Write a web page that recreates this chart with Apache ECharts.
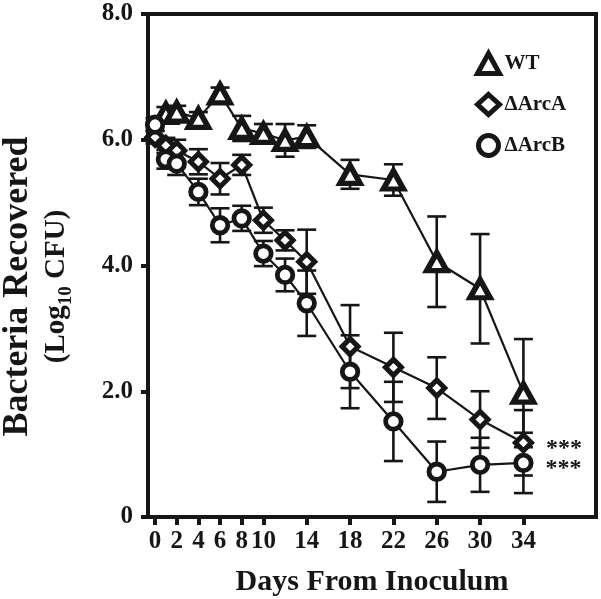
<!DOCTYPE html>
<html>
<head>
<meta charset="utf-8">
<script src="https://cdn.jsdelivr.net/npm/echarts@6/dist/echarts.min.js"></script>
<style>html,body{margin:0;padding:0;background:#fff;}#c{width:601px;height:599px;}</style>
</head>
<body>
<div id="c"></div>
<script>
// ---- data ----
var days   = [0, 1, 2, 4, 6, 8, 10, 12, 14, 18, 22, 26, 30, 34];
var wtDays = [1, 2, 4, 6, 8, 10, 12, 14, 18, 22, 26, 30, 34];
var tickDays = [0, 2, 4, 6, 8, 10, 14, 18, 22, 26, 30, 34];
var wt     = [6.42, 6.44, 6.34, 6.73, 6.18, 6.10, 5.99, 6.05, 5.45, 5.36, 4.06, 3.63, 1.97];
var wtErr  = [0.10, 0.10, 0.10, 0.10, 0.20, 0.15, 0.26, 0.18, 0.23, 0.25, 0.72, 0.87, 0.86];
var arcA   = [6.04, 5.91, 5.83, 5.65, 5.38, 5.60, 4.72, 4.40, 4.06, 2.71, 2.38, 2.05, 1.55, 1.18];
var arcAErr= [0.10, 0.12, 0.17, 0.20, 0.25, 0.16, 0.20, 0.16, 0.51, 0.66, 0.55, 0.49, 0.45, 0.52];
var arcB   = [6.24, 5.69, 5.62, 5.17, 4.64, 4.75, 4.19, 3.85, 3.40, 2.31, 1.52, 0.72, 0.83, 0.86];
var arcBErr= [0.10, 0.15, 0.18, 0.21, 0.27, 0.20, 0.20, 0.26, 0.52, 0.58, 0.63, 0.48, 0.43, 0.48];
var names = ['WT', '\u0394ArcA', '\u0394ArcB'];
var sigLabel = '***';

var INK = '#161616';
var FONT = 'Liberation Serif';

function pts(xs, vals, sig) {
  return xs.map(function (d, i) {
    var item = { value: [d, vals[i]] };
    if (sig && i === xs.length - 1) {
      item.label = {
        show: true, position: 'right', distance: 12, formatter: sigLabel,
        fontFamily: FONT, fontWeight: 'bold', fontSize: 24, color: INK, offset: [0, 6]
      };
    }
    return item;
  });
}
function bars(xs, vals, errs) {
  return xs.map(function (d, i) { return [d, vals[i] - errs[i], vals[i] + errs[i]]; });
}
function errSeries(xs, vals, errs) {
  return {
    type: 'custom', z: 1, silent: true,
    renderItem: function (params, api) {
      var x = api.value(0);
      var lo = api.coord([x, api.value(1)]);
      var hi = api.coord([x, api.value(2)]);
      var hw = 9.5;
      var st = { stroke: INK, lineWidth: 2.6 };
      return { type: 'group', children: [
        { type: 'line', shape: { x1: lo[0], y1: lo[1], x2: hi[0], y2: hi[1] }, style: st },
        { type: 'line', shape: { x1: lo[0] - hw, y1: lo[1], x2: lo[0] + hw, y2: lo[1] }, style: st },
        { type: 'line', shape: { x1: hi[0] - hw, y1: hi[1], x2: hi[0] + hw, y2: hi[1] }, style: st }
      ]};
    },
    data: bars(xs, vals, errs)
  };
}
function lineSeries(name, xs, vals, symbol, size, bw, sig) {
  return {
    name: name, type: 'line', z: 5, symbol: symbol, symbolSize: size, showAllSymbol: true,
    lineStyle: { color: INK, width: 2.2 },
    itemStyle: { color: '#fff', borderColor: INK, borderWidth: bw },
    emphasis: { disabled: true },
    animation: false,
    data: pts(xs, vals, sig)
  };
}

var chart = echarts.init(document.getElementById('c'), null, { renderer: 'canvas' });
chart.setOption({
  animation: false,
  backgroundColor: '#fff',
  grid: { left: 148, right: 5, top: 14, bottom: 82, show: true, borderColor: INK, borderWidth: 4,
          containLabel: false, outerBoundsMode: 'none' },
  legend: {
    orient: 'vertical', left: 470, top: 46, itemWidth: 22, itemHeight: 20, itemGap: 16,
    textStyle: { fontFamily: FONT, fontWeight: 'bold', fontSize: 21, color: INK },
    data: [
      { name: names[0], icon: 'triangle', itemStyle: { color: '#fff', borderColor: INK, borderWidth: 5 } },
      { name: names[1], icon: 'diamond', itemStyle: { color: '#fff', borderColor: INK, borderWidth: 5 } },
      { name: names[2], icon: 'circle', itemStyle: { color: '#fff', borderColor: INK, borderWidth: 5 } }
    ]
  },
  xAxis: {
    type: 'value', min: -0.65, max: 40.7,
    name: 'Days From Inoculum', nameLocation: 'middle', nameGap: 50,
    nameTextStyle: { fontFamily: FONT, fontWeight: 'bold', fontSize: 30, color: INK },
    axisLine: { onZero: false, lineStyle: { color: INK, width: 4 } },
    axisTick: { show: true, length: 8, lineStyle: { color: INK, width: 4 }, customValues: tickDays },
    axisLabel: { customValues: tickDays, margin: 12, fontFamily: FONT, fontWeight: 'bold', fontSize: 25, color: INK },
    splitLine: { show: false }
  },
  yAxis: {
    type: 'value', min: 0, max: 8, interval: 2,
    name: '{t|Bacteria Recovered}\n{p|(Log}{s|10}{p| CFU)}', nameLocation: 'middle', nameGap: 72,
    nameTextStyle: {
      fontFamily: FONT, fontWeight: 'bold', color: INK, padding: [0, 42, 0, 0],
      rich: {
        t: { fontFamily: FONT, fontWeight: 'bold', fontSize: 36, color: INK, lineHeight: 40 },
        p: { fontFamily: FONT, fontWeight: 'bold', fontSize: 29, color: INK, lineHeight: 38 },
        s: { fontFamily: FONT, fontWeight: 'bold', fontSize: 19, color: INK, lineHeight: 38, verticalAlign: 'bottom', padding: [16, 0, 0, 0] }
      }
    },
    axisLine: { show: true, onZero: false, lineStyle: { color: INK, width: 4 } },
    axisTick: { show: true, length: 7, lineStyle: { color: INK, width: 4 } },
    axisLabel: {
      margin: 15, fontFamily: FONT, fontWeight: 'bold', fontSize: 25, color: INK,
      formatter: function (v) { return v === 0 ? '0' : v.toFixed(1); }
    },
    splitLine: { show: false }
  },
  series: [
    errSeries(wtDays, wt, wtErr),
    errSeries(days, arcA, arcAErr),
    errSeries(days, arcB, arcBErr),
    lineSeries(names[0], wtDays, wt, 'triangle', [20, 18], 5.5, false),
    lineSeries(names[1], days, arcA, 'diamond', [16, 16], 5, true),
    lineSeries(names[2], days, arcB, 'circle', 15.5, 4.8, true)
  ]
});
</script>
</body>
</html>
